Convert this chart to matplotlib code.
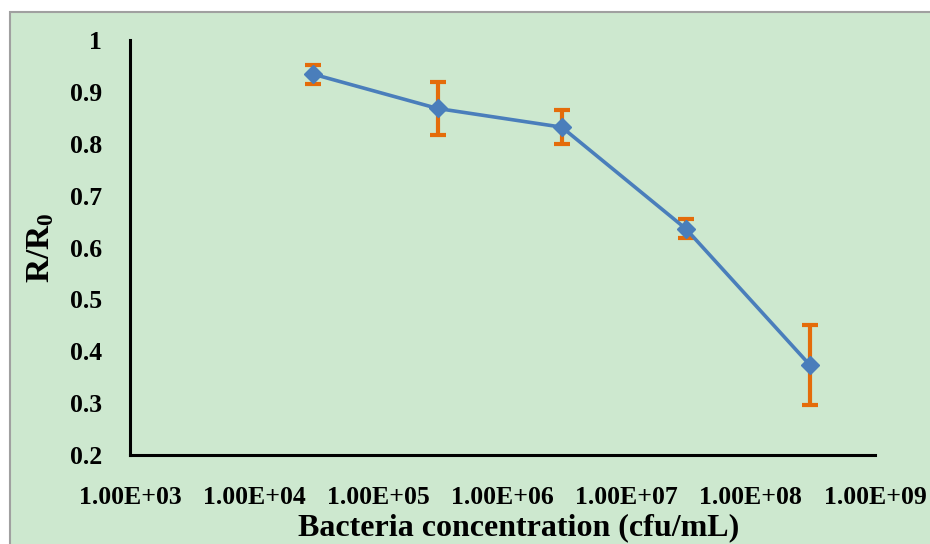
import numpy as np
import matplotlib.pyplot as plt
from matplotlib.patches import Rectangle

# data
conc = [3e4, 3e5, 3e6, 3e7, 3e8]
ratio = [0.934, 0.868, 0.832, 0.636, 0.373]
err = [0.018, 0.052, 0.033, 0.018, 0.077]
xticks = [1e3, 1e4, 1e5, 1e6, 1e7, 1e8, 1e9]
xticklabels = ['1.00E+03', '1.00E+04', '1.00E+05', '1.00E+06',
               '1.00E+07', '1.00E+08', '1.00E+09']
yticks = [0.2, 0.3, 0.4, 0.5, 0.6, 0.7, 0.8, 0.9, 1]
yticklabels = ['0.2', '0.3', '0.4', '0.5', '0.6', '0.7', '0.8', '0.9', '1']

plt.rcParams['font.family'] = 'Liberation Serif'
plt.rcParams['font.weight'] = 'bold'
plt.rcParams['axes.labelweight'] = 'bold'
plt.rcParams['mathtext.fontset'] = 'custom'
plt.rcParams['mathtext.rm'] = 'Liberation Serif:bold'
plt.rcParams['mathtext.bf'] = 'Liberation Serif:bold'

green = '#cde8cf'
fig = plt.figure(figsize=(9.3, 5.44), dpi=100, facecolor='white')
# outer frame of the chart area
fig.patches.append(Rectangle((10/930, -0.1), 1.2, 1 - 12/544 + 0.1,
                             transform=fig.transFigure, facecolor=green,
                             edgecolor='#a0a0a0', lw=1.5, zorder=-10))

ax = fig.add_axes([130/930, 89/544, 745/930, 415/544])
ax.set_facecolor('none')

ax.errorbar(conc, ratio, yerr=err, fmt='none', ecolor='#e46c0a',
            elinewidth=3, capsize=6, capthick=3, zorder=2)
ax.plot(conc, ratio, color='#4a7ebb', lw=2.6, marker='D', markersize=9,
        zorder=3)

ax.set_xscale('log')
ax.set_xlim(1e3, 1e9)
ax.set_ylim(0.2, 1)
ax.set_xticks(xticks)
ax.set_xticklabels(xticklabels)
ax.minorticks_off()
ax.set_yticks(yticks)
ax.set_yticklabels(yticklabels)
ax.tick_params(axis='both', length=0, labelsize=18.5)
ax.tick_params(axis='x', pad=22)
ax.tick_params(axis='y', pad=20)

for s in ['top', 'right']:
    ax.spines[s].set_visible(False)
for s in ['left', 'bottom']:
    ax.spines[s].set_linewidth(2.2)

ax.set_xlabel('Bacteria concentration (cfu/mL)', fontsize=23, labelpad=3)
ax.xaxis.label.set_x(0.522)
ax.set_ylabel(r'$\mathbf{R/R_0}$', fontsize=24, labelpad=10)

fig.savefig('out.png', dpi=100)
